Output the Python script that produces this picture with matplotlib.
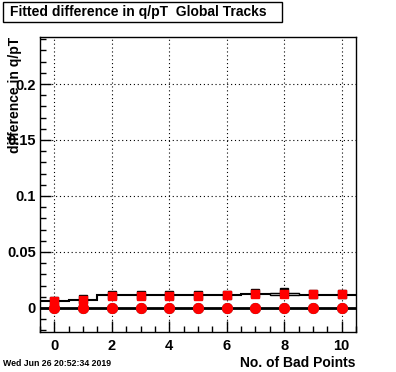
import numpy as np
import matplotlib
matplotlib.use("Agg")
import matplotlib.pyplot as plt
from matplotlib.patches import Rectangle
from matplotlib.ticker import MultipleLocator

# bad points (bin centres)
bad_points = [0, 1, 2, 3, 4, 5, 6, 7, 8, 9, 10]

# fitted difference, global tracks (black histogram) and red overlay
black_upper = [0.0060, 0.0074, 0.0113, 0.0113, 0.0113, 0.0113, 0.0116, 0.0122, 0.0125, 0.0119, 0.0119]
black_upper_err = [0.0002, 0.0002, 0.0002, 0.0002, 0.0002, 0.0002, 0.0002, 0.0002, 0.0007, 0.0003, 0.0003]
black_upper_pts = [0.0060, 0.0080, 0.0112, 0.0112, 0.0112, 0.0112, 0.0118, 0.0134, 0.0140, 0.0122, 0.0122]
red_upper = [0.0065, 0.0072, 0.0110, 0.0110, 0.0110, 0.0110, 0.0118, 0.0121, 0.0120, 0.0120, 0.0120]

black_lower = [0.0002, 0.0000, 0.0000, 0.0000, 0.0000, 0.0000, 0.0000, 0.0000, -0.0002, -0.0002, -0.0002]
red_lower = [0.0000, 0.0000, 0.0000, 0.0000, 0.0000, 0.0000, 0.0000, 0.0000, 0.0000, 0.0000, 0.0000]

plt.rcParams['font.family'] = ['Liberation Sans', 'DejaVu Sans']
plt.rcParams['font.weight'] = 'bold'

fig = plt.figure(figsize=(3.96, 3.72), dpi=100)
ax = fig.add_axes([40/396, 1 - 332/372, 316/396, 295/372])

x = np.array(bad_points)
edges = np.append(x - 0.5, x[-1] + 0.5)

# black step histograms
ax.stairs(black_upper, edges, color='black', lw=1.5, baseline=None, zorder=2)
ax.stairs(black_lower, edges, color='black', lw=2, baseline=None, zorder=2)
# error box on upper histogram
for xi, v, e in zip(x, black_upper, black_upper_err):
    if e > 0.0005:
        ax.add_patch(Rectangle((xi - 0.5, v - e), 1.0, 2 * e, facecolor='white',
                               edgecolor='black', lw=1, zorder=2))

ax.plot(x, black_upper_pts, 's', color='black', ms=6, zorder=3)
ax.plot(x, black_lower, 'o', color='#333333', ms=7, zorder=3)

ax.plot(x, red_upper, 's', color='red', ms=6, zorder=4)
ax.plot(x, red_lower, 'o', color='red', ms=7, zorder=4)

ax.set_xlim(-0.5, 10.5)
ax.set_ylim(-0.0215, 0.242)

ax.xaxis.set_major_locator(MultipleLocator(2))
ax.xaxis.set_minor_locator(MultipleLocator(0.5))
ax.yaxis.set_major_locator(MultipleLocator(0.05))
ax.yaxis.set_minor_locator(MultipleLocator(0.01))
ax.set_yticks([0, 0.05, 0.1, 0.15, 0.2])
ax.set_yticklabels(['0', '0.05', '0.1', '0.15', '0.2'])

ax.tick_params(axis='both', which='major', direction='in', length=8, width=1,
               labelsize=10.5, top=False, right=False)
ax.tick_params(axis='both', which='minor', direction='in', length=4, width=1,
               top=False, right=False)
ax.tick_params(axis='x', pad=5)
ax.tick_params(axis='y', pad=3)
for lbl in ax.get_xticklabels() + ax.get_yticklabels():
    lbl.set_fontweight('bold')

ax.grid(True, which='major', color='black', linestyle=(0, (1, 2.5)), lw=0.8)
for s in ax.spines.values():
    s.set_linewidth(1)

# title box
fig.patches.append(Rectangle((3/396, 1 - 22/372), 279/396, 20/372, transform=fig.transFigure,
                             facecolor='white', edgecolor='black', lw=1))
fig.text(10/396, 1 - 12/372, 'Fitted difference in q/pT  Global Tracks',
         fontsize=10, fontweight='bold', va='center', ha='left')

fig.text(15/396, 1 - 37/372, 'difference in q/pT', rotation=90, fontsize=10,
         fontweight='bold', ha='center', va='top')
fig.text(355/396, 1 - 363/372, 'No. of Bad Points', fontsize=10, fontweight='bold',
         ha='right', va='center')
fig.text(3/396, 1 - 364/372, 'Wed Jun 26 20:52:34 2019', fontsize=6.3,
         fontweight='bold', ha='left', va='center')

fig.savefig('out.png', dpi=100)
